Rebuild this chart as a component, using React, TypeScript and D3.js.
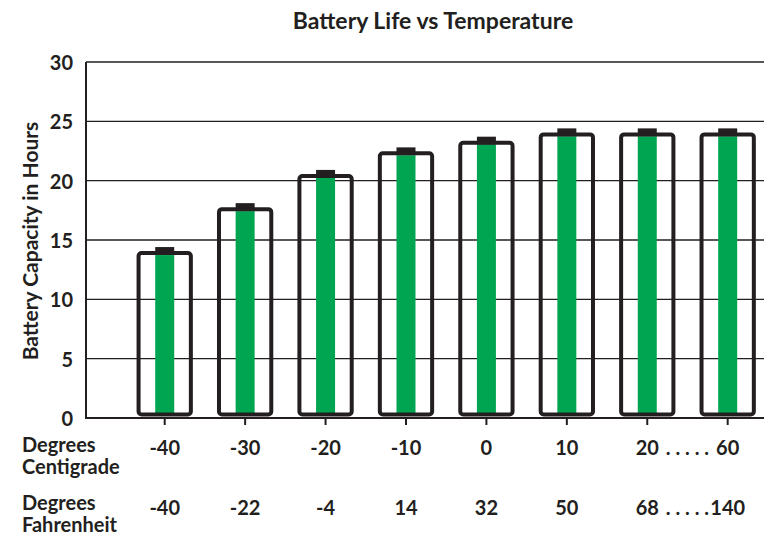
import * as d3 from "d3";

const categories = ["-40", "-30", "-20", "-10", "0", "10", "20", "60"];
const fahrenheit = ["-40", "-22", "-4", "14", "32", "50", "68", "140"];
const hours = [13.9, 17.6, 20.4, 22.3, 23.2, 23.9, 23.9, 23.9];
const yTicks = [0, 5, 10, 15, 20, 25, 30];

const W = 764;
const H = 535;
const FONT = "Lato, 'Open Sans', sans-serif";
const DARK = "#231f20";
const GREEN = "#00a551";

export default function App() {
  const left = 86;
  const top = 62;
  const bottom = 418;

  // batteries, one band per temperature
  const x = d3.scaleBand<string>().domain(categories).range([124.5, 767.9]).paddingInner(0.3).paddingOuter(0.15);
  const y = d3.scaleLinear().domain([0, 30]).range([bottom, top]);
  const bw = x.bandwidth();
  const capW = 19;
  const cx = (c: string) => x(c)! + bw / 2;
  // dotted range marker between the last two columns
  const last = categories.length - 1;
  const dotsX = (cx(categories[last - 1]) + cx(categories[last])) / 2;

  return (
    <div>
      <style>{`body{margin:0}`}</style>
      <svg width={W} height={H} style={{ display: "block", fontFamily: FONT }}>
        <text x={433} y={29} textAnchor="middle" fontSize={23} fontWeight={700} fill={DARK}>
          Battery Life vs Temperature
        </text>

        {yTicks.map((t) => (
          <g key={t}>
            <line x1={left} x2={W} y1={y(t)} y2={y(t)} stroke={DARK} strokeWidth={t === 0 ? 2 : 1.3} />
            <text x={73} y={y(t) + 8} textAnchor="end" fontSize={20} fontWeight={700} fill={DARK}>
              {t}
            </text>
          </g>
        ))}
        <line x1={left} x2={left} y1={top} y2={bottom + 1} stroke={DARK} strokeWidth={2} />

        <text
          transform={`translate(38,241) rotate(-90)`}
          textAnchor="middle"
          fontSize={21}
          fontWeight={700}
          fill={DARK}
        >
          Battery Capacity in Hours
        </text>

        {categories.map((c, i) => {
          const x0 = x(c)!;
          const mx = cx(c);
          const yt = y(hours[i]);
          const yb = bottom - 3.5;
          return (
            <g key={c}>
              <line x1={mx} x2={mx} y1={bottom} y2={bottom + 7} stroke={DARK} strokeWidth={2} />
              <rect x={mx - capW / 2} y={yt - 6} width={capW} height={8} fill={DARK} />
              <rect x={mx - capW / 2} y={yt + 2} width={capW} height={yb - yt - 2} fill={GREEN} />
              <rect
                x={x0 + 2}
                y={yt}
                width={bw - 4}
                height={yb - yt}
                rx={3}
                fill="none"
                stroke={DARK}
                strokeWidth={4}
              />
              <text x={mx} y={455} textAnchor="middle" fontSize={20} fontWeight={700} fill={DARK}>
                {c}
              </text>
              <text x={mx} y={515} textAnchor="middle" fontSize={20} fontWeight={700} fill={DARK}>
                {fahrenheit[i]}
              </text>
            </g>
          );
        })}
        <text x={dotsX} y={455} textAnchor="middle" fontSize={20} fontWeight={700} fill={DARK}>
          . . . . .
        </text>
        <text x={dotsX} y={515} textAnchor="middle" fontSize={20} fontWeight={700} fill={DARK}>
          . . . . .
        </text>

        <text x={22} y={452} fontSize={20} fontWeight={700} fill={DARK}>Degrees</text>
        <text x={22} y={474} fontSize={20} fontWeight={700} fill={DARK}>Centigrade</text>
        <text x={22} y={510} fontSize={20} fontWeight={700} fill={DARK}>Degrees</text>
        <text x={22} y={532} fontSize={20} fontWeight={700} fill={DARK}>Fahrenheit</text>
      </svg>
    </div>
  );
}
